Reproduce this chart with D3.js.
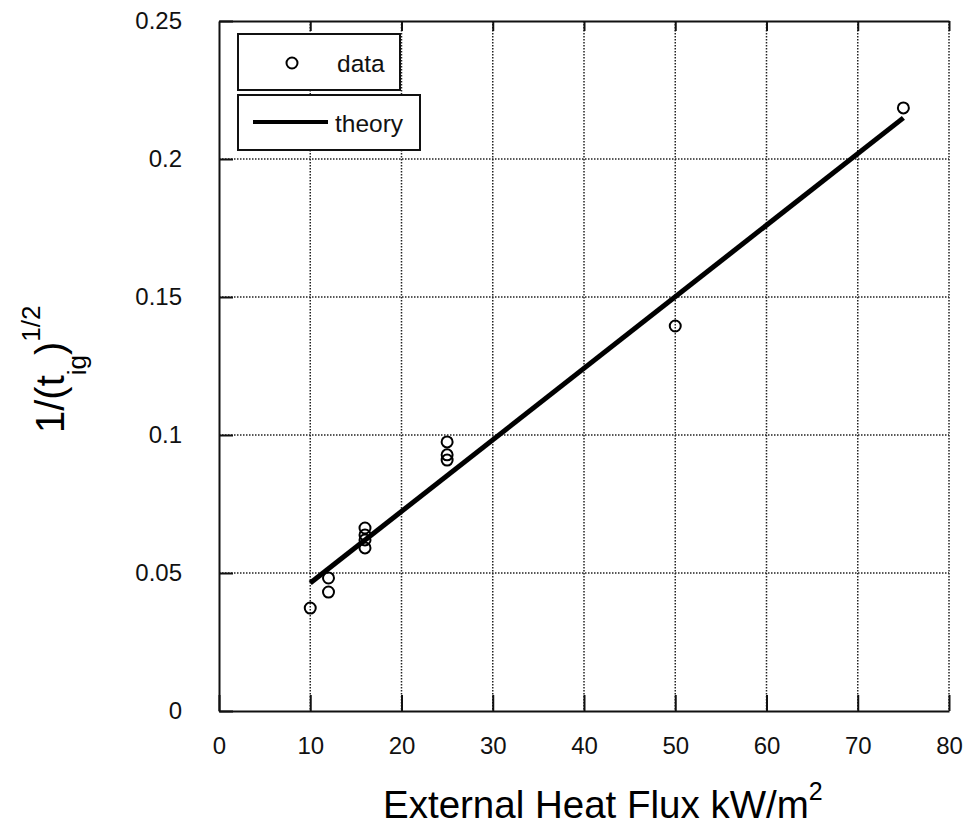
<!DOCTYPE html>
<html>
<head>
<meta charset="utf-8">
<script src="https://cdn.jsdelivr.net/npm/d3@7"></script>
<style>
  html, body { margin: 0; padding: 0; background: #fff; }
  svg { display: block; font-family: "Liberation Sans", Arial, Helvetica, sans-serif; }
</style>
</head>
<body>
<svg id="chart" width="968" height="831"></svg>
<script>
// Measured ignition data: external heat flux (kW/m^2) vs 1/sqrt(t_ig)
const fluxData = [10, 12, 12, 16, 16, 16, 16, 25, 25, 25, 50, 75];
const invSqrtTig = [0.0373, 0.0482, 0.0431, 0.0663, 0.0638, 0.0620, 0.0591, 0.0975, 0.0928, 0.0909, 0.1395, 0.2185];

// Theory line end points
const theoryFlux = [10, 75];
const theoryValue = [0.0464, 0.2149];

// Axis ticks
const xTicks = [0, 10, 20, 30, 40, 50, 60, 70, 80];
const yTicks = [0, 0.05, 0.1, 0.15, 0.2, 0.25];
const yTickLabels = ["0", "0.05", "0.1", "0.15", "0.2", "0.25"];

const svg = d3.select("#chart");
const plotLeft = 219, plotRight = 949, plotTop = 21, plotBottom = 711;

const x = d3.scaleLinear().domain([0, 80]).range([plotLeft, plotRight]);
const y = d3.scaleLinear().domain([0, 0.25]).range([plotBottom, plotTop]);

const ink = "#111";

// Dotted grid
const grid = svg.append("g")
  .attr("stroke", "#222").attr("stroke-width", 1.5)
  .attr("stroke-dasharray", "1.5,1.5");
grid.selectAll("line.v").data(xTicks.filter(d => d > 0)).join("line")
  .attr("class", "v")
  .attr("x1", d => x(d)).attr("x2", d => x(d))
  .attr("y1", plotTop).attr("y2", plotBottom);
grid.selectAll("line.h").data(yTicks.filter(d => d > 0 && d < 0.25)).join("line")
  .attr("class", "h")
  .attr("x1", plotLeft).attr("x2", plotRight)
  .attr("y1", d => y(d)).attr("y2", d => y(d));

// Bottom axis with inward ticks
const xAxis = d3.axisBottom(x).tickValues(xTicks).tickSize(-16).tickSizeOuter(0)
  .tickFormat(d3.format("d")).tickPadding(26);
const gx = svg.append("g").attr("transform", `translate(0,${plotBottom})`).call(xAxis);
gx.select(".domain").attr("stroke", ink).attr("stroke-width", 2);
gx.selectAll(".tick line").attr("stroke", ink).attr("stroke-width", 2);
gx.selectAll(".tick text").attr("fill", ink).attr("font-size", 24)
  .attr("font-family", "'Liberation Sans', Arial, sans-serif");

// Left axis with inward ticks
const yAxis = d3.axisLeft(y).tickValues(yTicks).tickSize(-14).tickSizeOuter(0)
  .tickFormat((d, i) => yTickLabels[i]).tickPadding(37);
const gy = svg.append("g").attr("transform", `translate(${plotLeft},0)`).call(yAxis);
gy.select(".domain").attr("stroke", ink).attr("stroke-width", 2);
gy.selectAll(".tick line").attr("stroke", ink).attr("stroke-width", 2);
gy.selectAll(".tick text").attr("fill", ink).attr("font-size", 24)
  .attr("font-family", "'Liberation Sans', Arial, sans-serif");

// Top axis line with short inward ticks, no labels
const topAxis = d3.axisTop(x).tickValues(xTicks.filter(d => d > 0)).tickSize(-10)
  .tickSizeOuter(0).tickFormat("");
const gt = svg.append("g").attr("transform", `translate(0,${plotTop})`).call(topAxis);
gt.select(".domain").attr("stroke", ink).attr("stroke-width", 2);
gt.selectAll(".tick line").attr("stroke", ink).attr("stroke-width", 2);

// Theory line
svg.append("line")
  .attr("x1", x(theoryFlux[0])).attr("y1", y(theoryValue[0]))
  .attr("x2", x(theoryFlux[1])).attr("y2", y(theoryValue[1]))
  .attr("stroke", "#000").attr("stroke-width", 5);

// Data points
svg.append("g").selectAll("circle").data(fluxData).join("circle")
  .attr("cx", d => x(d)).attr("cy", (d, i) => y(invSqrtTig[i]))
  .attr("r", 5.5).attr("fill", "none").attr("stroke", "#000").attr("stroke-width", 2);

// Legend
const legend = svg.append("g");
legend.append("rect").attr("x", 238).attr("y", 34).attr("width", 162).attr("height", 56)
  .attr("fill", "#fff").attr("stroke", ink).attr("stroke-width", 2);
legend.append("circle").attr("cx", 292).attr("cy", 63).attr("r", 5.5)
  .attr("fill", "none").attr("stroke", "#000").attr("stroke-width", 2);
legend.append("text").attr("x", 337).attr("y", 72).attr("font-size", 24.5)
  .attr("fill", ink).text("data");
legend.append("rect").attr("x", 238).attr("y", 95).attr("width", 182).attr("height", 55)
  .attr("fill", "#fff").attr("stroke", ink).attr("stroke-width", 2);
legend.append("line").attr("x1", 253).attr("x2", 328).attr("y1", 122).attr("y2", 122)
  .attr("stroke", "#000").attr("stroke-width", 4);
legend.append("text").attr("x", 335).attr("y", 132).attr("font-size", 24.5)
  .attr("fill", ink).text("theory");

// X axis title
const xt = svg.append("text").attr("x", 383).attr("y", 818)
  .attr("font-size", 38.5).attr("fill", "#000");
xt.append("tspan").text("External Heat Flux kW/m");
xt.append("tspan").attr("font-size", 25).attr("dy", -18).text("2");

// Y axis title
const yt = svg.append("text").attr("transform", "translate(64,433) rotate(-90)")
  .attr("font-size", 40).attr("fill", "#000");
yt.append("tspan").text("1/(t");
yt.append("tspan").attr("font-size", 26).attr("dy", 22).text("ig");
yt.append("tspan").attr("dy", -22).text(")");
yt.append("tspan").attr("font-size", 26).attr("dy", -24).text("1/2");
</script>
</body>
</html>
